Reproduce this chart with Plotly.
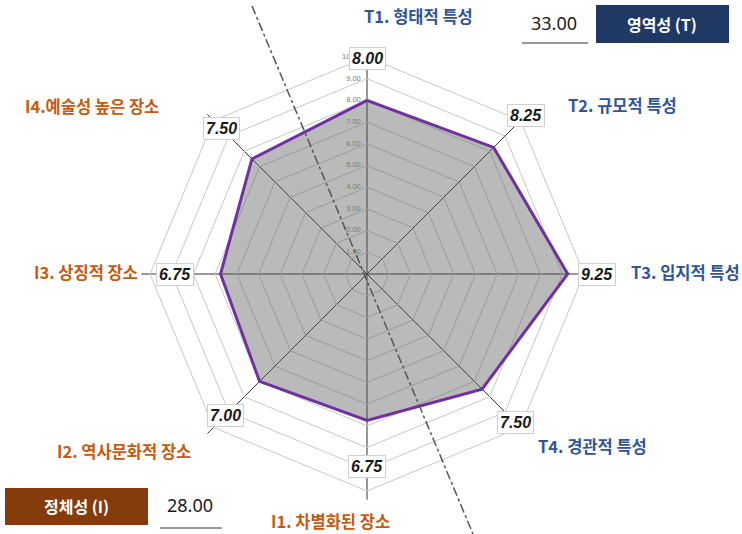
import math
import plotly.graph_objects as go

# Category axes (clockwise from top)
categories = ["T1. 형태적 특성", "T2. 규모적 특성", "T3. 입지적 특성", "T4. 경관적 특성",
              "I1. 차별화된 장소", "I2. 역사문화적 장소", "I3. 상징적 장소", "I4.예술성 높은 장소"]
scores = [8.00, 8.25, 9.25, 7.50, 6.75, 7.00, 6.75, 7.50]
tick_values = [0, 1, 2, 3, 4, 5, 6, 7, 8, 9, 10]
territoriality_total = 33.00
identity_total = 28.00

W, H = 742, 534
CX, CY = 367, 274          # polar centre in pixels
UNIT = 21.7                # pixels per score unit
RMAX = 10.4

BLUE = "#2f5597"
ORANGE = "#c55a11"

def px(x, y):
    return x / W, 1 - y / H

fig = go.Figure()

fig.add_trace(go.Scatterpolar(
    r=scores + scores[:1],
    theta=categories + categories[:1],
    mode="lines",
    fill="toself",
    fillcolor="rgba(90,90,90,0.42)",
    line=dict(color="#7030a0", width=3),
    hoverinfo="skip",
    showlegend=False,
))

# radial scale labels along the first spoke, on its left side
fig.add_trace(go.Scatterpolar(
    r=tick_values,
    theta=[categories[0]] * len(tick_values),
    mode="text",
    text=[f"{t:.2f}\u00a0\u00a0\u00a0" for t in tick_values],
    textposition="middle left",
    textfont=dict(size=7.5, color="#7a7a7a", family="Liberation Sans"),
    hoverinfo="skip",
    showlegend=False,
))

R = RMAX * UNIT
x0, y1 = px(CX - R, CY - R)
x1, y0 = px(CX + R, CY + R)

fig.update_layout(
    width=W, height=H,
    margin=dict(l=0, r=0, t=0, b=0),
    paper_bgcolor="white",
    showlegend=False,
    polar=dict(
        domain=dict(x=[x0, x1], y=[y0, y1]),
        bgcolor="white",
        gridshape="linear",
        radialaxis=dict(
            range=[0, RMAX],
            tickvals=tick_values,
            showticklabels=False,
            angle=90,
            showline=False,
            ticks="",
            gridcolor="#c8c8c8",
            gridwidth=1,
        ),
        angularaxis=dict(
            rotation=90,
            direction="clockwise",
            showticklabels=False,
            ticks="",
            showline=False,
            gridcolor="#333333",
            gridwidth=1.4,
        ),
    ),
)

# dash-dot boundary line across the chart
ax0, ay0 = px(252, 6)
ax1, ay1 = px(473, 534)
shapes = [dict(type="line", xref="paper", yref="paper", x0=ax0, y0=ay0, x1=ax1, y1=ay1,
               line=dict(color="#555555", width=1.5, dash="dashdot"), layer="above")]

annotations = []

def note(x, y, text, size, color, family, **kw):
    xp, yp = px(x, y)
    d = dict(x=xp, y=yp, xref="paper", yref="paper", showarrow=False,
             xanchor="center", yanchor="middle", text=text,
             font=dict(size=size, color=color, family=family))
    d.update(kw)
    annotations.append(d)

# value boxes placed just outside each vertex
label_offsets = [1.95, 2.1, 1.35, 2.15, 2.1, 2.2, 2.1, 2.0]
n = len(categories)
for i, (v, off) in enumerate(zip(scores, label_offsets)):
    ang = math.radians(90 - i * 360 / n)
    r = (v + off) * UNIT
    note(CX + r * math.cos(ang), CY - r * math.sin(ang),
         f"<b><i>{v:.2f}</i></b>", 16, "#1a1a1a", "Liberation Sans",
         bgcolor="white", bordercolor="#cfcfcf", borderwidth=1, borderpad=2)

# category labels
cat_pos = [(418, 16), (622, 105), (685, 272), (592, 446),
           (330, 521), (124, 451), (86, 272), (92, 106)]
for name, (lx, ly) in zip(categories, cat_pos):
    note(lx, ly, f"<b>{name}</b>", 16.5,
         BLUE if name.startswith("T") else ORANGE, "Noto Sans CJK KR")

# summary boxes
def rect(xa, ya, xb, yb, color):
    p0x, p0y = px(xa, yb)
    p1x, p1y = px(xb, ya)
    shapes.append(dict(type="rect", xref="paper", yref="paper",
                       x0=p0x, y0=p0y, x1=p1x, y1=p1y,
                       fillcolor=color, line=dict(width=0), layer="above"))

def hline(xa, xb, y):
    p0x, py_ = px(xa, y)
    p1x, _ = px(xb, y)
    shapes.append(dict(type="line", xref="paper", yref="paper",
                       x0=p0x, y0=py_, x1=p1x, y1=py_,
                       line=dict(color="#333333", width=1.2)))

rect(596, 5, 729, 43, "#1f3864")
note(662, 24, "<b>영역성 (T)</b>", 16, "white", "Noto Sans CJK KR")
note(554, 23, f"{territoriality_total:.2f}", 18, "#1a1a1a", "Noto Sans")
hline(522, 588, 43)

rect(5, 488, 148, 525, "#843c0c")
note(76, 506, "<b>정체성 (I)</b>", 16, "white", "Noto Sans CJK KR")
note(190, 505, f"{identity_total:.2f}", 18, "#1a1a1a", "Noto Sans")
hline(160, 222, 528)

fig.update_layout(shapes=shapes, annotations=annotations)
fig.write_html("out.html")
